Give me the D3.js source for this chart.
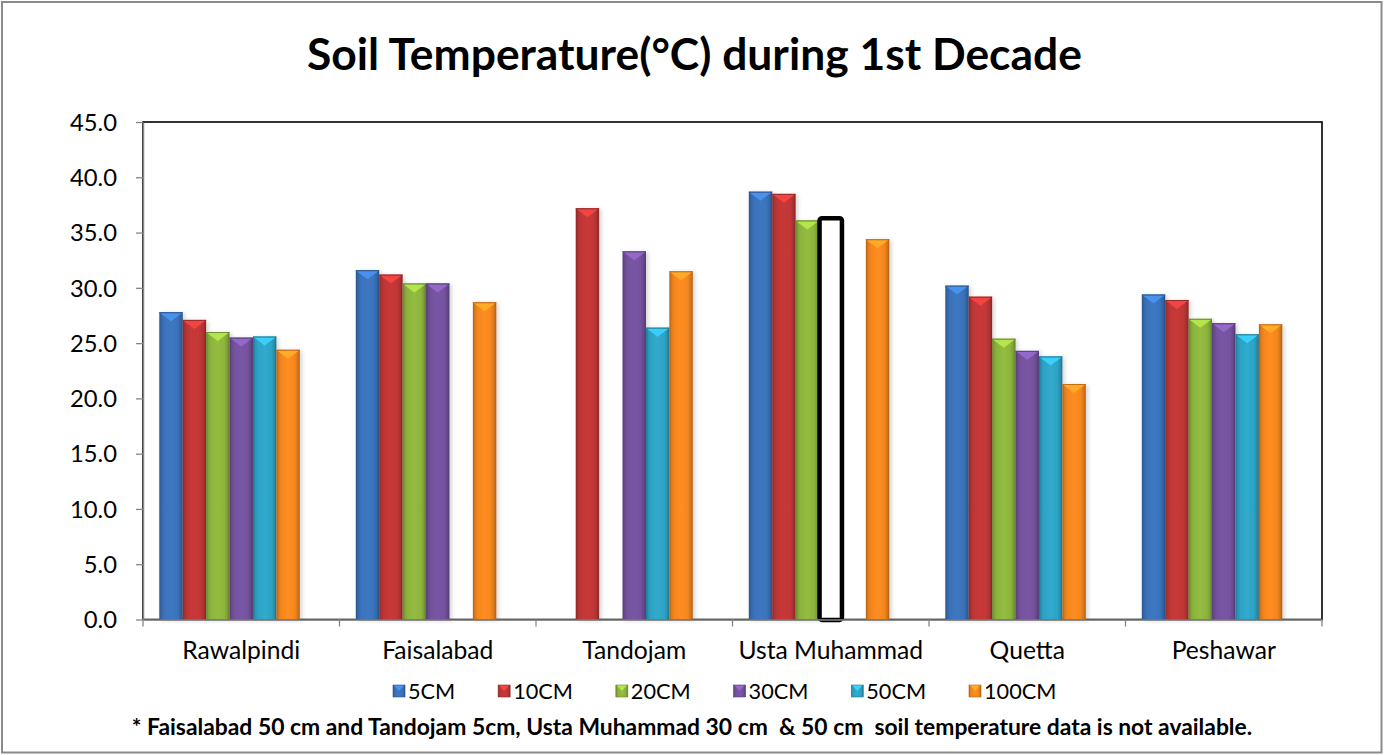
<!DOCTYPE html>
<html>
<head>
<meta charset="utf-8">
<script src="https://cdn.jsdelivr.net/npm/d3@7"></script>
<style>
  html, body { margin: 0; padding: 0; background: #fff; }
  svg { display: block; }
  text { font-family: Lato, "Open Sans", "DejaVu Sans", sans-serif; fill: #000; }
</style>
</head>
<body>
<svg id="chart" width="1384" height="755"></svg>
<script>
// ---------------- data ----------------
const titleText = "Soil Temperature(°C) during 1st Decade";
const categories = ["Rawalpindi", "Faisalabad", "Tandojam", "Usta Muhammad", "Quetta", "Peshawar"];
const seriesNames = ["5CM", "10CM", "20CM", "30CM", "50CM", "100CM"];
const values5 = [27.8, 31.6, null, 38.7, 30.2, 29.4];
const values10 = [27.1, 31.2, 37.2, 38.5, 29.2, 28.9];
const values20 = [26.0, 30.4, null, 36.1, 25.4, 27.2];
const values30 = [25.5, 30.4, 33.3, 36.3, 24.3, 26.8];
const values50 = [25.6, null, 26.4, null, 23.8, 25.8];
const values100 = [24.4, 28.7, 31.5, 34.4, 21.3, 26.7];
const seriesValues = [values5, values10, values20, values30, values50, values100];
const seriesColors = ["#3a72ba", "#c03636", "#8db43d", "#74529e", "#2ea3c5", "#f5871f"];
// cell drawn as an empty outlined box in the original (data not available)
const outlinedCells = [{ category: "Usta Muhammad", series: "30CM" }];
const yTicks = [0, 5, 10, 15, 20, 25, 30, 35, 40, 45];
const yDomain = [0, 45];
const noteText = "* Faisalabad 50 cm and Tandojam 5cm, Usta Muhammad 30 cm  & 50 cm  soil temperature data is not available.";

// ---------------- layout ----------------
const svg = d3.select("#chart");
const W = 1384, H = 755;
const plot = { left: 143, right: 1322, top: 122, bottom: 619.5 };
const slotCount = 7; // Excel leaves an empty trailing slot per group

const defs = svg.append("defs");
const shadow = defs.append("filter").attr("id", "barShadow")
  .attr("x", "-30%").attr("y", "-10%").attr("width", "170%").attr("height", "120%");
shadow.append("feDropShadow").attr("dx", 2).attr("dy", 1).attr("stdDeviation", 2)
  .attr("flood-color", "#000").attr("flood-opacity", 0.18);

seriesColors.forEach((c, i) => {
  const g = defs.append("linearGradient").attr("id", "grad" + i)
    .attr("x1", "0%").attr("x2", "100%").attr("y1", "0%").attr("y2", "0%");
  const base = d3.color(c);
  [[0, base.darker(0.9)], [0.1, base.darker(0.25)], [0.22, base], [0.5, base.brighter(0.12)],
   [0.78, base], [0.9, base.darker(0.35)], [1, base.darker(1.0)]].forEach(([o, col]) => {
    g.append("stop").attr("offset", (o * 100) + "%").attr("stop-color", col.formatHex());
  });
});

// outer chart border
svg.append("rect").attr("x", 2).attr("y", 2).attr("width", W - 4.5).attr("height", H - 4.5)
  .attr("fill", "#fff").attr("stroke", "#8a8a8a").attr("stroke-width", 2);

// helper to fit font size for a target width
function fitSize(text, weight, targetWidth, guess) {
  const t = svg.append("text").style("font-size", guess + "px").style("font-weight", weight).text(text);
  const w = t.node().getComputedTextLength();
  t.remove();
  return guess * targetWidth / w;
}

// title
const titleSize = fitSize(titleText, "bold", 775, 36);
svg.append("text").attr("x", 694.5).attr("y", 70).attr("text-anchor", "middle")
  .style("font-weight", "bold").style("font-size", titleSize + "px").text(titleText);

// scales
const x0 = d3.scaleBand().domain(categories).range([plot.left, plot.right]).paddingInner(0).paddingOuter(0);
const groupPad = x0.bandwidth() * 0.083;
const x1 = d3.scaleBand().domain(d3.range(slotCount)).range([groupPad, x0.bandwidth() - groupPad]);
const y = d3.scaleLinear().domain(yDomain).range([plot.bottom, plot.top]);

// plot area border (top & right black)
svg.append("rect").attr("x", plot.left).attr("y", plot.top)
  .attr("width", plot.right - plot.left).attr("height", plot.bottom - plot.top)
  .attr("fill", "none").attr("stroke", "#000").attr("stroke-width", 1.6);

// bars
const barData = [];
seriesNames.forEach((s, si) => {
  categories.forEach((c, ci) => {
    const v = seriesValues[si][ci];
    if (v == null) return;
    const outlined = outlinedCells.some(o => o.category === c && o.series === s);
    barData.push({ s, si, c, v, outlined });
  });
});

const barsG = svg.append("g");
const bar = barsG.selectAll("g.bar").data(barData).join("g").attr("class", "bar");
bar.each(function (d) {
  const g = d3.select(this);
  const bx = x0(d.c) + x1(d.si);
  const bw = x1.bandwidth();
  const by = y(d.v);
  const bh = y(0) - by;
  if (d.outlined) {
    g.append("rect").attr("x", bx + 0.5).attr("y", by).attr("width", bw - 1).attr("height", bh + 0.5)
      .attr("rx", 2.5).attr("fill", "#fff").attr("stroke", "#000").attr("stroke-width", 4.5);
    return;
  }
  const base = d3.color(seriesColors[d.si]);
  g.append("rect").attr("x", bx).attr("y", by).attr("width", bw).attr("height", bh)
    .attr("fill", "url(#grad" + d.si + ")").attr("filter", "url(#barShadow)");
  // top bevel
  g.append("polygon")
    .attr("points", [[bx + 1, by + 1], [bx + bw - 1, by + 1], [bx + bw / 2, by + 9]].map(p => p.join(",")).join(" "))
    .attr("fill", base.brighter(0.7).formatHex()).attr("opacity", 0.95);
  g.append("line").attr("x1", bx).attr("x2", bx + bw).attr("y1", by + 0.5).attr("y2", by + 0.5)
    .attr("stroke", base.darker(0.6).formatHex()).attr("stroke-width", 1);
});

// y axis
const yAxisG = svg.append("g").attr("transform", `translate(${plot.left},0)`)
  .call(d3.axisLeft(y).tickValues(yTicks).tickFormat(d3.format(".1f")).tickSize(7).tickSizeOuter(0));
yAxisG.select(".domain").attr("stroke", "#868686").attr("stroke-width", 1.5);
yAxisG.selectAll(".tick line").attr("stroke", "#868686").attr("stroke-width", 1.3);
const yLabSize = fitSize("45.0", "normal", 47, 20);
yAxisG.selectAll(".tick text").style("font-size", yLabSize + "px").attr("x", -26)
  .attr("dy", "0.35em").attr("fill", "#000")
  .style("font-family", "Lato, 'Open Sans', sans-serif");

// x axis
const xBoundaries = categories.map(c => x0(c)).concat([plot.right]);
svg.append("line").attr("x1", plot.left).attr("x2", plot.right).attr("y1", plot.bottom + 0.5).attr("y2", plot.bottom + 0.5)
  .attr("stroke", "#868686").attr("stroke-width", 1.5);
svg.append("g").selectAll("line").data(xBoundaries).join("line")
  .attr("x1", d => d).attr("x2", d => d).attr("y1", plot.bottom).attr("y2", plot.bottom + 7)
  .attr("stroke", "#868686").attr("stroke-width", 1.3);
const xLabSize = fitSize("Rawalpindi", "normal", 118, 20);
svg.append("g").selectAll("text").data(categories).join("text")
  .attr("x", d => x0(d) + x0.bandwidth() / 2).attr("y", 659).attr("text-anchor", "middle")
  .style("font-size", xLabSize + "px").text(d => d);

// legend
const legSize = xLabSize * 0.88;
const legG = svg.append("g");
const legFirst = 393, legLast = 969, legSq = 12, legTextOff = 15;
const legItems = seriesNames.map((s, i) => {
  const t = legG.append("text").attr("y", 699).style("font-size", legSize + "px").text(s);
  return { s, i, t, tw: t.node().getComputedTextLength() };
});
const n = legItems.length;
const sumTw = d3.sum(legItems.slice(0, n - 1), d => d.tw);
const legGap = (legLast - legFirst - (n - 1) * legTextOff - sumTw) / (n - 1);
let lx = legFirst;
legItems.forEach(it => {
  const sx = lx;
  const base = d3.color(seriesColors[it.i]);
  legG.append("rect").attr("x", sx).attr("y", 685).attr("width", legSq).attr("height", legSq)
    .attr("fill", "url(#grad" + it.i + ")").attr("stroke", base.darker(0.8).formatHex()).attr("stroke-width", 0.6);
  legG.append("polygon")
    .attr("points", [[sx + 1, 685.5], [sx + 11, 685.5], [sx + 6, 691]].map(p => p.join(",")).join(" "))
    .attr("fill", base.brighter(0.7).formatHex());
  it.t.attr("x", sx + legTextOff);
  lx += legTextOff + it.tw + legGap;
});

// footnote
const noteSize = fitSize(noteText, "bold", 1110, 16);
svg.append("text").attr("x", 692).attr("y", 735).attr("text-anchor", "middle")
  .style("font-weight", "bold").style("font-size", noteSize + "px").attr("xml:space", "preserve")
  .style("white-space", "pre").text(noteText);
</script>
</body>
</html>
